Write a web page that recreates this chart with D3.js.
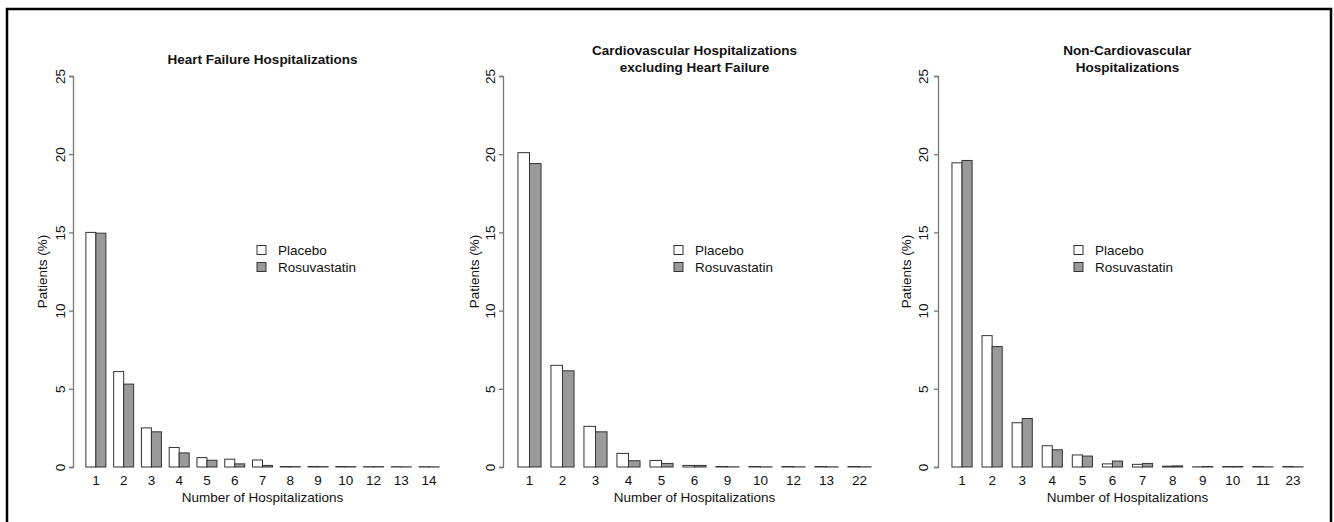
<!DOCTYPE html>
<html>
<head>
<meta charset="utf-8">
<script src="https://cdn.jsdelivr.net/npm/d3@7"></script>
<style>
	body { margin: 0; background: #fff; }
	text { font-family: "Liberation Sans", Arial, sans-serif; fill: #111; }
</style>
</head>
<body>
<div id="chart"></div>
<script>
// Heart failure hospitalizations
const hfCats = ["1", "2", "3", "4", "5", "6", "7", "8", "9", "10", "12", "13", "14"];
const hfPlacebo = [15.0, 6.1, 2.5, 1.25, 0.6, 0.5, 0.45, 0.03, 0.03, 0.03, 0.02, 0.02, 0.02];
const hfRosu = [14.95, 5.3, 2.25, 0.9, 0.43, 0.2, 0.1, 0.02, 0.02, 0.02, 0.02, 0.01, 0.01];

// Cardiovascular hospitalizations excluding heart failure
const cvCats = ["1", "2", "3", "4", "5", "6", "9", "10", "12", "13", "22"];
const cvPlacebo = [20.1, 6.5, 2.6, 0.87, 0.42, 0.1, 0.03, 0.03, 0.03, 0.03, 0.03];
const cvRosu = [19.4, 6.15, 2.25, 0.4, 0.23, 0.1, 0.01, 0.01, 0.01, 0.01, 0.01];

// Non-cardiovascular hospitalizations
const ncvCats = ["1", "2", "3", "4", "5", "6", "7", "8", "9", "10", "11", "23"];
const ncvPlacebo = [19.45, 8.4, 2.83, 1.36, 0.77, 0.2, 0.17, 0.05, 0.01, 0.03, 0.03, 0.03];
const ncvRosu = [19.6, 7.7, 3.1, 1.1, 0.7, 0.38, 0.23, 0.07, 0.03, 0.03, 0.01, 0.01];

const seriesNames = ["Placebo", "Rosuvastatin"];
const seriesFill = ["#ffffff", "#9a9a9a"];
const yTicks = [0, 5, 10, 15, 20, 25];

const width = 1334;
const height = 522;
const fontSize = 13.5;

const svg = d3.select("#chart")
	.append("svg")
		.attr("width", width)
		.attr("height", height);

// outer frame
svg.append("rect")
	.attr("x", 7)
	.attr("y", 9)
	.attr("width", 1324)
	.attr("height", 530)
	.attr("fill", "none")
	.attr("stroke", "#000")
	.attr("stroke-width", 2.5);

const y = d3.scaleLinear()
	.domain([0, 25])
	.range([467, 76]);

drawPanel({
	title: ["Heart Failure Hospitalizations"],
	cats: hfCats, placebo: hfPlacebo, rosu: hfRosu,
	axisX: 73, x0: 82, x1: 443, pad: 0.28,
	legendX: 257, labelOff: 31, tickOff: 13
});
drawPanel({
	title: ["Cardiovascular Hospitalizations", "excluding Heart Failure"],
	cats: cvCats, placebo: cvPlacebo, rosu: cvRosu,
	axisX: 503, x0: 513, x1: 876, pad: 0.3,
	legendX: 674, labelOff: 29, tickOff: 13
});
drawPanel({
	title: ["Non-Cardiovascular", "Hospitalizations"],
	cats: ncvCats, placebo: ncvPlacebo, rosu: ncvRosu,
	axisX: 938, x0: 947, x1: 1308, pad: 0.33,
	legendX: 1074, labelOff: 32, tickOff: 15
});

function drawPanel({title, cats, placebo, rosu, axisX, x0, x1, pad, legendX, labelOff, tickOff}){
	const g = svg.append("g");

	const x = d3.scaleBand()
		.domain(cats)
		.range([x0, x1])
		.paddingInner(pad)
		.paddingOuter(pad / 2);

	const xs = d3.scaleBand()
		.domain(seriesNames)
		.range([0, x.bandwidth()]);

	const rows = cats.map((c, i) => ({cat: c, values: [placebo[i], rosu[i]]}));

	// bars
	g.selectAll(".grp")
		.data(rows)
		.join("g")
			.attr("transform", d => `translate(${x(d.cat)},0)`)
		.selectAll("rect")
		.data(d => d.values.map((v, k) => ({v, k})))
		.join("rect")
			.attr("x", d => xs(seriesNames[d.k]))
			.attr("y", d => y(d.v))
			.attr("width", xs.bandwidth())
			.attr("height", d => y(0) - y(d.v))
			.attr("fill", d => seriesFill[d.k])
			.attr("stroke", "#333")
			.attr("stroke-width", 1);

	// y axis
	const yAxis = g.append("g")
		.attr("transform", `translate(${axisX},0)`)
		.call(d3.axisLeft(y).tickValues(yTicks).tickSize(4).tickFormat(d3.format("d")));
	yAxis.selectAll("path, line").attr("stroke", "#777").attr("stroke-width", 1.3);
	yAxis.selectAll("text").remove();
	yAxis.selectAll(".tick")
		.append("text")
			.attr("transform", `translate(${-tickOff},0) rotate(-90)`)
			.attr("text-anchor", "middle")
			.attr("dy", "0.35em")
			.style("font-size", fontSize + "px")
			.text(d => d);

	// x tick labels, no axis line
	const xAxis = g.append("g")
		.attr("transform", "translate(0,467)")
		.call(d3.axisBottom(x).tickSize(0).tickPadding(8));
	xAxis.select(".domain").remove();
	xAxis.selectAll("text")
		.style("font-size", fontSize + "px")
		.attr("fill", "#111");

	// axis titles
	g.append("text")
		.attr("transform", `translate(${axisX - labelOff},${(y(0) + y(25)) / 2}) rotate(-90)`)
		.attr("text-anchor", "middle")
		.attr("dy", "0.35em")
		.style("font-size", fontSize + "px")
		.text("Patients (%)");

	g.append("text")
		.attr("x", (x0 + x1) / 2)
		.attr("y", 502)
		.attr("text-anchor", "middle")
		.style("font-size", fontSize + "px")
		.text("Number of Hospitalizations");

	// title
	const titleY = title.length === 1 ? 64 : 55;
	g.append("text")
		.attr("x", (x0 + x1) / 2)
		.attr("y", titleY)
		.attr("text-anchor", "middle")
		.style("font-size", fontSize + "px")
		.style("font-weight", "bold")
		.selectAll("tspan")
		.data(title)
		.join("tspan")
			.attr("x", (x0 + x1) / 2)
			.attr("dy", (d, i) => i === 0 ? 0 : 17)
			.text(d => d);

	// legend
	const legend = g.append("g")
		.selectAll("g")
		.data(seriesNames)
		.join("g")
			.attr("transform", (d, i) => `translate(${legendX},${250 + i * 17})`);
	legend.append("rect")
		.attr("x", 0)
		.attr("y", -4.5)
		.attr("width", 9)
		.attr("height", 9)
		.attr("fill", (d, i) => seriesFill[i])
		.attr("stroke", "#333");
	legend.append("text")
		.attr("x", 21)
		.attr("dy", "0.35em")
		.style("font-size", fontSize + "px")
		.text(d => d);
}
</script>
</body>
</html>
